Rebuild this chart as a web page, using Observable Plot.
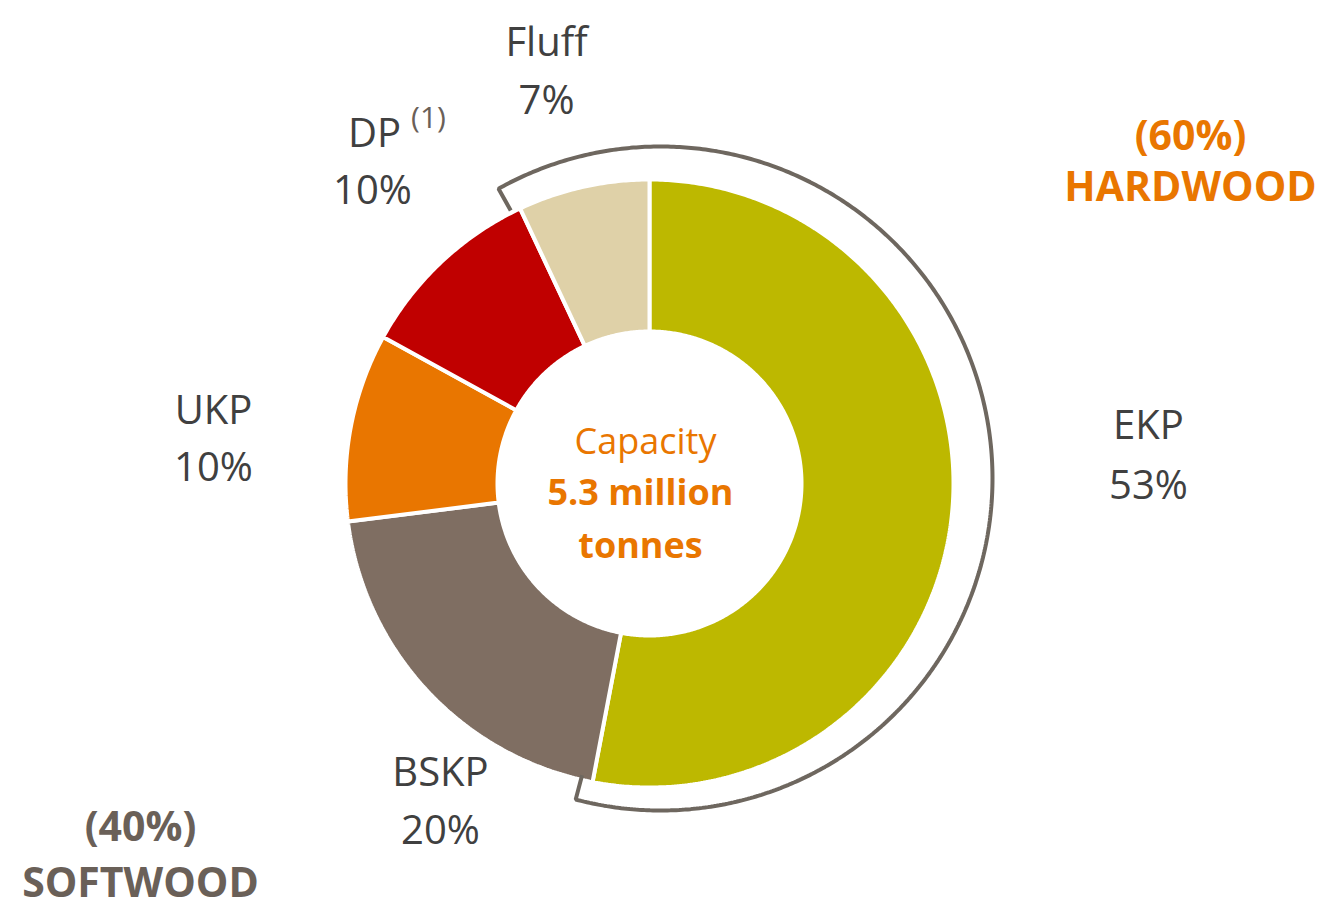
<!DOCTYPE html>
<html>
<head>
<meta charset="utf-8">
<script src="https://cdn.jsdelivr.net/npm/d3@7"></script>
<script src="https://cdn.jsdelivr.net/npm/@observablehq/plot@0.6"></script>
<style>
  html, body { margin: 0; padding: 0; background: #ffffff; }
  #chart svg { display: block; }
</style>
</head>
<body>
<div id="chart"></div>
<script>
// ---------------- data ----------------
const categories = ["EKP", "BSKP", "UKP", "DP", "Fluff"];
const shares = [53, 20, 10, 10, 7];
const woodType = ["HARDWOOD", "SOFTWOOD", "SOFTWOOD", "SOFTWOOD", "HARDWOOD"];
const footnotes = ["", "", "", "(1)", ""];
const capacityLines = ["Capacity", "5.3 million", "tonnes"];
const woodGroups = ["HARDWOOD", "SOFTWOOD"];

// ---------------- styles / layout ----------------
const sliceColors = {EKP: "#BDB800", BSKP: "#7F6E62", UKP: "#E97600", DP: "#C00000", Fluff: "#DFD1A8"};
const textGray = "#404040";
const orange = "#E97600";
const softGray = "#6A6058";
const bracketColor = "#6E675F";
const W = 1323, H = 901;
const ring = {cx: 649, cy: 483, r0: 152, r1: 304, gap: 4};
const bracket = {cx: 660, cy: 478, r: 332, pad: 4, tick: 25};
// label anchors: x and baseline of first line, spacing between lines
const labelLayout = {
  EKP:   {x: 1148, y: 438, dy: 60},
  BSKP:  {x: 440,  y: 785, dy: 58},
  UKP:   {x: 213,  y: 423, dy: 57},
  DP:    {x: 374,  y: 146, dy: 57, px: 372, fx: 428, fy: 127},
  Fluff: {x: 546,  y: 55,  dy: 58}
};
const groupLayout = {
  HARDWOOD: {x: 1190, y: 149, dy: 51, color: orange},
  SOFTWOOD: {x: 140,  y: 840, dy: 56, color: softGray}
};
const centerLayout = [
  {x: 645, y: 453, size: 37, weight: 400},
  {x: 640, y: 504, size: 37, weight: 700},
  {x: 640, y: 557, size: 37, weight: 700}
];
const labelSize = 40;

// ---------------- geometry from data ----------------
const total = d3.sum(shares);
let cum = 0;
const slices = categories.map((name, i) => {
  const a0 = cum / total * 360;
  cum += shares[i];
  const a1 = cum / total * 360;
  return {name, share: shares[i], wood: woodType[i], a0, a1};
});
const rad = a => a * Math.PI / 180;
const polar = (cx, cy, r, a) => ({x: cx + r * Math.sin(rad(a)), y: cy - r * Math.cos(rad(a))});

const slicePts = [];
for (const s of slices) {
  const n = Math.max(8, Math.ceil((s.a1 - s.a0) / 0.5));
  for (let k = 0; k <= n; k++) {
    const a = s.a0 + (s.a1 - s.a0) * k / n;
    slicePts.push({name: s.name, ...polar(ring.cx, ring.cy, ring.r1, a)});
  }
  for (let k = n; k >= 0; k--) {
    const a = s.a0 + (s.a1 - s.a0) * k / n;
    slicePts.push({name: s.name, ...polar(ring.cx, ring.cy, ring.r0, a)});
  }
}

// Hardwood bracket: spans contiguous hardwood slices (Fluff wraps to EKP)
const hw = slices.filter(s => s.wood === "HARDWOOD");
const hwStart = d3.min(hw, s => (s.a0 > 180 ? s.a0 - 360 : s.a0)) - bracket.pad;
const hwEnd = d3.max(hw, s => (s.a0 > 180 ? s.a1 - 360 : s.a1)) + bracket.pad;
const bracketPts = [];
bracketPts.push(polar(bracket.cx, bracket.cy, bracket.r - bracket.tick, hwStart));
const nb = Math.ceil((hwEnd - hwStart) / 0.5);
for (let k = 0; k <= nb; k++) {
  bracketPts.push(polar(bracket.cx, bracket.cy, bracket.r, hwStart + (hwEnd - hwStart) * k / nb));
}
bracketPts.push(polar(bracket.cx, bracket.cy, bracket.r - bracket.tick, hwEnd));

// text rows
const nameRows = slices.map(s => ({text: s.name, x: labelLayout[s.name].x, y: labelLayout[s.name].y}));
const pctRows = slices.map(s => ({text: `${s.share}%`, x: labelLayout[s.name].px ?? labelLayout[s.name].x, y: labelLayout[s.name].y + labelLayout[s.name].dy}));
const noteRows = slices.map((s, i) => ({text: footnotes[i], x: labelLayout[s.name].fx, y: labelLayout[s.name].fy})).filter(d => d.text);
const groupPctRows = woodGroups.map(g => ({text: `(${d3.sum(slices.filter(s => s.wood === g), s => s.share)}%)`, ...groupLayout[g]}));
const groupNameRows = woodGroups.map(g => ({text: g, ...groupLayout[g], y: groupLayout[g].y + groupLayout[g].dy}));
const centerRows = capacityLines.map((t, i) => ({text: t, ...centerLayout[i]}));

const font = "'Open Sans', 'DejaVu Sans', sans-serif";

const chart = Plot.plot({
  width: W,
  height: H,
  margin: 0,
  style: {fontFamily: font, background: "#ffffff"},
  x: {domain: [0, W], range: [0, W], axis: null},
  y: {domain: [0, H], range: [0, H], axis: null},
  color: {domain: categories, range: categories.map(c => sliceColors[c])},
  marks: [
    Plot.line(slicePts, {x: "x", y: "y", z: "name", fill: "name", stroke: "white", strokeWidth: ring.gap, curve: "linear-closed", strokeLinejoin: "miter"}),
    Plot.line(bracketPts, {x: "x", y: "y", stroke: bracketColor, strokeWidth: 4, strokeLinejoin: "miter", strokeLinecap: "butt"}),
    Plot.text(nameRows, {x: "x", y: "y", text: "text", fontSize: labelSize, fill: textGray, textAnchor: "middle", lineAnchor: "bottom", fontFamily: font}),
    Plot.text(pctRows, {x: "x", y: "y", text: "text", fontSize: labelSize, fill: textGray, textAnchor: "middle", lineAnchor: "bottom", fontFamily: font}),
    Plot.text(noteRows, {x: "x", y: "y", text: "text", fontSize: 30, fill: softGray, textAnchor: "middle", lineAnchor: "bottom", fontFamily: font}),
    Plot.text(groupPctRows, {x: "x", y: "y", text: "text", fontSize: 41, fontWeight: 700, fill: d => d.color, textAnchor: "middle", lineAnchor: "bottom", fontFamily: font}),
    Plot.text(groupNameRows, {x: "x", y: "y", text: "text", fontSize: 41, fontWeight: 700, fill: d => d.color, textAnchor: "middle", lineAnchor: "bottom", fontFamily: font}),
    Plot.text(centerRows.filter(d => d.weight === 400), {x: "x", y: "y", text: "text", fontSize: 36, fontWeight: 400, fill: orange, textAnchor: "middle", lineAnchor: "bottom", fontFamily: font}),
    Plot.text(centerRows.filter(d => d.weight === 700), {x: "x", y: "y", text: "text", fontSize: 36, fontWeight: 700, fill: orange, textAnchor: "middle", lineAnchor: "bottom", fontFamily: font})
  ]
});
document.getElementById("chart").appendChild(chart);
</script>
</body>
</html>
